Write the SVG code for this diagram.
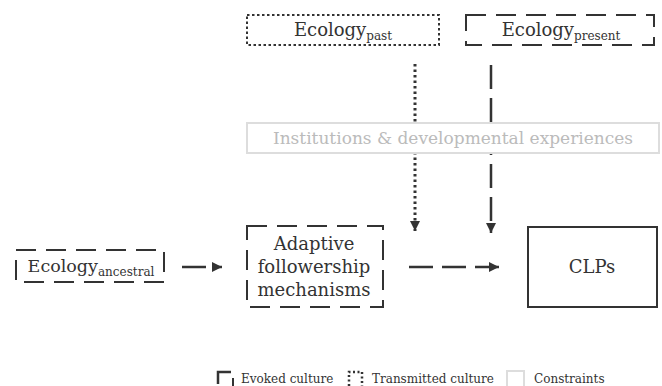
<svg xmlns="http://www.w3.org/2000/svg" width="662" height="386" viewBox="0 0 662 386">
<style>
  text { fill: #333; font-family: "DejaVu Serif", serif; }
  .lbl { font-size: 18px; text-anchor: middle; }
  .sub { font-size: 12px; }
  .box { fill: #fff; stroke: #333; stroke-width: 2; }
  .dash { stroke-dasharray: 20 10; }
  .dot { stroke-dasharray: 2.5 2.5; }
  .con { fill: none; stroke: #333; stroke-width: 2.5; }
  .cdash { stroke-dasharray: 24 9; }
  .cdot { stroke-dasharray: 2.5 3; stroke-width: 3; }
  .leg { font-size: 12px; }
</style>
<defs>
  <marker id="ah" viewBox="0 0 10 10" refX="10" refY="5" markerWidth="10" markerHeight="10" markerUnits="userSpaceOnUse" orient="auto">
    <path d="M0,0 L10,5 L0,10 Z" fill="#333"/>
  </marker>
</defs>

<g id="connectors">
  <line class="con cdot" x1="415" y1="64" x2="415" y2="231" marker-end="url(#ah)"/>
  <line class="con cdash" x1="491" y1="65" x2="491" y2="233" marker-end="url(#ah)"/>
  <line class="con" x1="182" y1="267" x2="206" y2="267"/>
  <line class="con" x1="212" y1="267" x2="222" y2="267" marker-end="url(#ah)" stroke-width="0"/>
  <line class="con cdash" x1="409" y1="267" x2="499" y2="267" marker-end="url(#ah)"/>
</g>

<g id="institutions">
  <rect x="247" y="123" width="412" height="30" fill="#fff" stroke="#ddd" stroke-width="2"/>
  <text x="453" y="144" style="font-size:17px;text-anchor:middle;fill:#bbb">Institutions &amp; developmental experiences</text>
</g>

<g id="ecology-past">
  <rect class="box dot" x="247" y="15" width="192" height="30"/>
  <text class="lbl" x="343" y="36">Ecology<tspan class="sub" dy="4">past</tspan></text>
</g>

<g id="ecology-present">
  <rect class="box dash" x="466" y="15" width="188" height="30"/>
  <text class="lbl" x="561" y="36">Ecology<tspan class="sub" dy="4">present</tspan></text>
</g>

<g id="ecology-ancestral">
  <rect class="box dash" x="16" y="250" width="148" height="32"/>
  <text class="lbl" x="91" y="272" style="font-size:17.5px">Ecology<tspan class="sub" dy="4">ancestral</tspan></text>
</g>

<g id="adaptive">
  <rect class="box dash" x="247" y="226" width="136" height="81"/>
  <text class="lbl" x="314" y="250">Adaptive</text>
  <text class="lbl" x="314" y="273">followership</text>
  <text class="lbl" x="314" y="296">mechanisms</text>
</g>

<g id="clps">
  <rect class="box" x="528" y="227" width="129" height="80"/>
  <text class="lbl" x="592" y="273">CLPs</text>
</g>

<g id="legend">
  <path d="M218,384 V372 H231" fill="none" stroke="#333" stroke-width="2.5"/>
  <line x1="233" y1="378" x2="233" y2="386" stroke="#333" stroke-width="2"/>
  <text class="leg" x="241" y="383">Evoked culture</text>
  <path d="M349,386 V372 H362 V386" fill="none" stroke="#333" stroke-width="2.5" stroke-dasharray="2 2.5"/>
  <text class="leg" x="372" y="383">Transmitted culture</text>
  <rect x="507" y="371" width="17" height="17" fill="none" stroke="#ddd" stroke-width="2"/>
  <text class="leg" x="534" y="383">Constraints</text>
</g>
</svg>
